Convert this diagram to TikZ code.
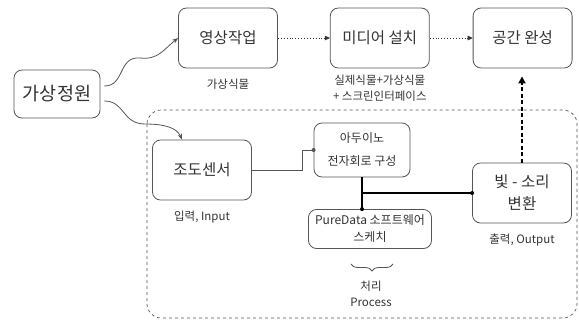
\documentclass[tikz,border=0pt]{standalone}
\usepackage{fontspec}
\setmainfont{Noto Sans CJK KR}
\usetikzlibrary{positioning,arrows.meta,decorations.pathreplacing}

\definecolor{linegray}{HTML}{555555}
\definecolor{textgray}{HTML}{333333}

\tikzset{
  box/.style = {draw=linegray, line width=0.8pt, rounded corners=8pt,
                text=textgray, align=center, inner sep=2pt},
  bigbox/.style = {box, minimum width=99pt, minimum height=60pt,
                   font=\fontsize{15.5}{22}\selectfont},
  smallbox/.style = {box, font=\fontsize{12}{17}\selectfont},
  note/.style = {text=textgray, align=center, font=\fontsize{11.5}{16}\selectfont},
  curvy/.style = {draw=linegray, line width=0.8pt, -{Stealth[length=6pt,width=4.5pt]}},
  flow/.style = {draw=black!80, line width=0.9pt, dotted, -{Triangle[length=5pt,width=4.5pt]}},
  wire/.style = {draw=linegray, line width=0.7pt},
  busline/.style = {draw=black, line width=1.1pt},
  dot/.style = {circle, fill=#1, inner sep=0pt, minimum size=4pt},
  frame/.style = {draw=linegray, line width=0.7pt, dashed, rounded corners=14pt}
}

\begin{document}
\begin{tikzpicture}[x=1pt, y=-1pt]
        \useasboundingbox (0,0) rectangle (579,322);
        %
        \node[box, minimum width=86pt, minimum height=48pt, font=\fontsize{18.5}{20}\selectfont] (garden) at (57,94) {가상정원};
        \node[bigbox] (video) at (228,38) {영상작업};
        \node[bigbox, right = 52pt of video] (media) {미디어 설치};
        \node[bigbox, right = 43pt of media] (space) {공간 완성};
        \node[note, below = 7pt of video] (video_lbl) {가상식물};
        \node[note, below = 3pt of media] (media_lbl) {실제식물+가상식물\\+ 스크린인터페이스};
        %
        \draw[frame] (147,110) rectangle (577,318);
        %
        \node[bigbox] (sensor) at (202,170) {조도센서};
        \node[note, below = 7pt of sensor] (sensor_lbl) {입력, Input};
        \node[smallbox, minimum width=96pt, minimum height=54pt, font=\fontsize{12}{23}\selectfont] (arduino) at (362,150) {아두이노\\전자회로 구성};
        \node[smallbox, minimum width=123pt, minimum height=39pt] (puredata) at (370,229) {PureData 소프트웨어\\스케치};
        \node[bigbox] (output) at (522,193) {빛 - 소리\\변환};
        \node[note, below = 7pt of output] (output_lbl) {출력, Output};
        \coordinate (brace_l) at (351,264);
        \coordinate (brace_r) at (393,264);
        \node[note] (process) at (371,294) {처리\\Process};
        \coordinate (junction) at (362,193);
        %
        \draw[curvy] ([xshift=4pt,yshift=8pt]garden.east) .. controls (125,86) and (118,56) .. (140,58)
              .. controls (158,60) and (163,50) .. (video.west);
        \draw[curvy] ([xshift=4pt,yshift=-7pt]garden.east) .. controls (125,101) and (122,124) .. (145,124)
              .. controls (165,124) and (177,128) .. ([xshift=-20pt]sensor.north);
        \draw[flow] (video) -- (media);
        \draw[flow] (media) -- (space);
        \draw[busline, dashed, line width=2pt, dash pattern=on 4pt off 2.5pt, -{Triangle[length=7pt,width=7pt]}, shorten >=8pt] (output.north) -- (output.north |- space.south);
        \draw[wire] (sensor.east) -- ++(50pt,0) |- (arduino.west) node[dot=linegray] {};
        \draw[busline] (arduino.south) -- (arduino.south |- puredata.north) node[dot=black] {};
        \draw[busline] (junction) -- (output.west) node[dot=black] {};
        \draw[linegray, line width=0.8pt, decorate, decoration={brace, mirror, amplitude=7pt}] (brace_l) -- (brace_r);
\end{tikzpicture}
\end{document}
